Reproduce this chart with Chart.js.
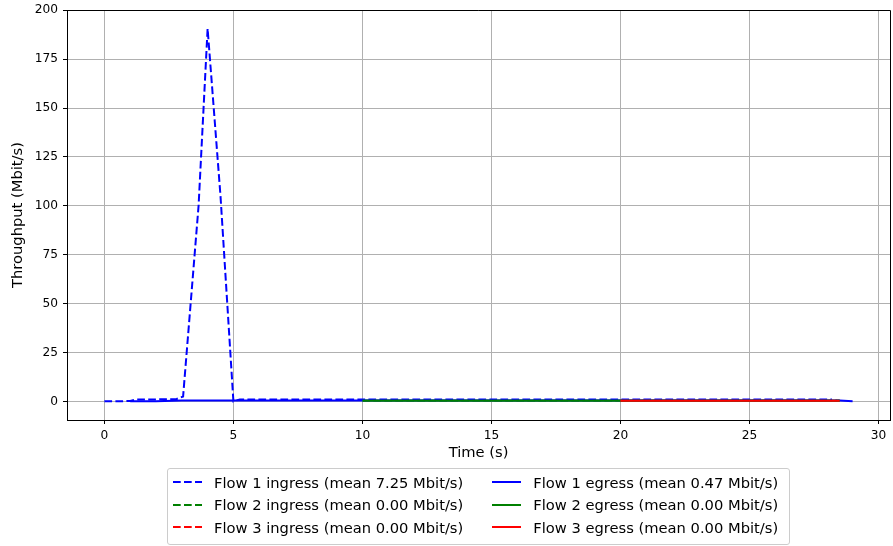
<!DOCTYPE html>
<html>
<head>
<meta charset="utf-8">
<script src="https://cdn.jsdelivr.net/npm/chart.js@4.4.1/dist/chart.umd.min.js"></script>
<style>
    body { margin: 0; background: #fff; }
    #wrap { position: relative; width: 893px; height: 546px; }
    #legend {
        position: absolute; left: 167px; top: 468px; width: 616px; height: 73px;
        border: 1px solid #cccccc; border-radius: 3px; background: rgba(255,255,255,0.8);
        box-sizing: content-box;
        font-family: "DejaVu Sans", sans-serif; font-size: 14.7px; color: #000;
        display: grid; grid-template-columns: auto auto; grid-auto-flow: column;
        grid-template-rows: repeat(3, 22.5px); column-gap: 29px;
        padding: 2px 0 0 5px; justify-content: start;
    }
    .item { display: flex; align-items: center; white-space: nowrap; }
    .item svg { margin-right: 12px; flex: none; }
</style>
</head>
<body>
<div id="wrap">
    <canvas id="chart" width="893" height="546"></canvas>
    <div id="legend"></div>
</div>
<script>
// ticks
const xTicks = [0, 5, 10, 15, 20, 25, 30];
const yTicks = [0, 25, 50, 75, 100, 125, 150, 175, 200];

// flow 1
const flow1InTime = [0, 0.5, 1, 1.25, 2, 2.8, 3.05, 3.65, 4, 4.5, 5, 5.25, 6, 7, 8, 9, 10, 11, 12, 13, 14, 15, 16, 17, 18, 19, 20, 21, 22, 23, 24, 25, 26, 27, 28, 28.2];
const flow1InValues = [0, 0, 0.2, 1, 1, 1.2, 2.5, 100, 190.6, 105, 0, 1, 1, 1, 1, 1, 1, 1, 1, 1, 1, 1, 1, 1, 1, 1, 1, 1, 1, 1, 1, 1, 1, 1, 1, 1];
const flow1OutTime = [1, 2, 3, 4, 5, 6, 7, 8, 9, 10, 11, 12, 13, 14, 15, 16, 17, 18, 19, 20, 21, 22, 23, 24, 25, 26, 27, 28, 28.5, 29];
const flow1OutValues = [0, 0.1, 0.4, 0.5, 0.5, 0.5, 0.5, 0.5, 0.5, 0.5, 0.5, 0.5, 0.5, 0.5, 0.5, 0.5, 0.5, 0.5, 0.5, 0.5, 0.5, 0.5, 0.5, 0.5, 0.5, 0.5, 0.5, 0.5, 0.4, 0];

// flow 2
const flow2Time = [10, 11, 12, 13, 14, 15, 16, 17, 18, 19, 20, 21, 22, 23, 24, 25, 26, 27, 28, 28.5];
const flow2InValues = [0.4, 0.4, 0.4, 0.4, 0.4, 0.4, 0.4, 0.4, 0.4, 0.4, 0.4, 0.4, 0.4, 0.4, 0.4, 0.4, 0.4, 0.4, 0.4, 0.4];
const flow2OutValues = [0.3, 0.3, 0.3, 0.3, 0.3, 0.3, 0.3, 0.3, 0.3, 0.3, 0.3, 0.3, 0.3, 0.3, 0.3, 0.3, 0.3, 0.3, 0.3, 0.3];

// flow 3
const flow3Time = [20, 21, 22, 23, 24, 25, 26, 27, 28, 28.5];
const flow3InValues = [0.35, 0.35, 0.35, 0.35, 0.35, 0.35, 0.35, 0.35, 0.35, 0.35];
const flow3OutValues = [0.3, 0.3, 0.3, 0.3, 0.3, 0.3, 0.3, 0.3, 0.3, 0.3];

const seriesLabels = [
    'Flow 1 ingress (mean 7.25 Mbit/s)',
    'Flow 2 ingress (mean 0.00 Mbit/s)',
    'Flow 3 ingress (mean 0.00 Mbit/s)',
    'Flow 1 egress (mean 0.47 Mbit/s)',
    'Flow 2 egress (mean 0.00 Mbit/s)',
    'Flow 3 egress (mean 0.00 Mbit/s)'
];

const DASH = [7.7, 3.3];
const font = 'DejaVu Sans';

function pts(t, v) {
    return t.map((x, i) => ({ x: x, y: v[i] }));
}

const series = [
    { data: pts(flow1InTime, flow1InValues), color: '#0000ff', dash: DASH },
    { data: pts(flow2Time, flow2InValues), color: '#008000', dash: DASH },
    { data: pts(flow3Time, flow3InValues), color: '#ff0000', dash: DASH },
    { data: pts(flow1OutTime, flow1OutValues), color: '#0000ff', dash: [] },
    { data: pts(flow2Time, flow2OutValues), color: '#008000', dash: [] },
    { data: pts(flow3Time, flow3OutValues), color: '#ff0000', dash: [] }
];

const datasets = series.map((s, i) => ({
    label: seriesLabels[i],
    data: s.data,
    borderColor: s.color,
    borderDash: s.dash,
    borderWidth: 2,
    pointRadius: 0,
    tension: 0,
    fill: false,
    order: series.length - i
}));

// top and right spines
const frame = {
    id: 'frame',
    afterDraw(chart) {
        const { ctx, chartArea: a } = chart;
        ctx.save();
        ctx.strokeStyle = '#000';
        ctx.lineWidth = 1;
        ctx.beginPath();
        ctx.moveTo(a.left, a.top + 0.5);
        ctx.lineTo(a.right + 0.5, a.top + 0.5);
        ctx.lineTo(a.right + 0.5, a.bottom);
        ctx.stroke();
        ctx.restore();
    }
};

const chart = new Chart(document.getElementById('chart'), {
    type: 'line',
    data: { datasets: datasets },
    options: {
        responsive: false,
        animation: false,
        layout: { padding: { top: 10, right: 3, left: 0, bottom: 0 } },
        plugins: { legend: { display: false }, tooltip: { enabled: false } },
        scales: {
            x: {
                type: 'linear',
                min: -1.45,
                max: 30.45,
                afterBuildTicks: axis => { axis.ticks = xTicks.map(v => ({ value: v })); },
                afterFit: axis => { axis.height = 126; axis.paddingLeft = 0; axis.paddingRight = 0; },
                ticks: { color: '#000', padding: 5, font: { family: font, size: 12.2 } },
                grid: { color: '#b0b0b0', lineWidth: 1, tickColor: '#000', tickLength: 4 },
                border: { color: '#000', width: 1 },
                title: {
                    display: true, text: 'Time (s)', color: '#000',
                    font: { family: font, size: 14.7 },
                    padding: { top: 0, bottom: 84 }
                }
            },
            y: {
                min: -9.53,
                max: 200.13,
                afterBuildTicks: axis => { axis.ticks = yTicks.map(v => ({ value: v })); },
                afterFit: axis => { axis.width = 67; axis.paddingTop = 0; axis.paddingBottom = 0; },
                ticks: { color: '#000', padding: 5, font: { family: font, size: 12.2 } },
                grid: { color: '#b0b0b0', lineWidth: 1, tickColor: '#000', tickLength: 4 },
                border: { color: '#000', width: 1 },
                title: {
                    display: true, text: 'Throughput (Mbit/s)', color: '#000',
                    font: { family: font, size: 14.7 },
                    padding: { top: 9, bottom: 0 }
                }
            }
        }
    },
    plugins: [frame]
});

function renderLegend() {
    const el = document.getElementById('legend');
    el.innerHTML = datasets.map(ds => `
        <div class="item">
            <svg width="29" height="10"><line x1="0" y1="5" x2="29" y2="5" stroke="${ds.borderColor}" stroke-width="2"
                ${ds.borderDash.length ? `stroke-dasharray="${ds.borderDash.join(' ')}"` : ''}/></svg>
            <span>${ds.label}</span>
        </div>
    `).join('');
}
renderLegend();
</script>
</body>
</html>
